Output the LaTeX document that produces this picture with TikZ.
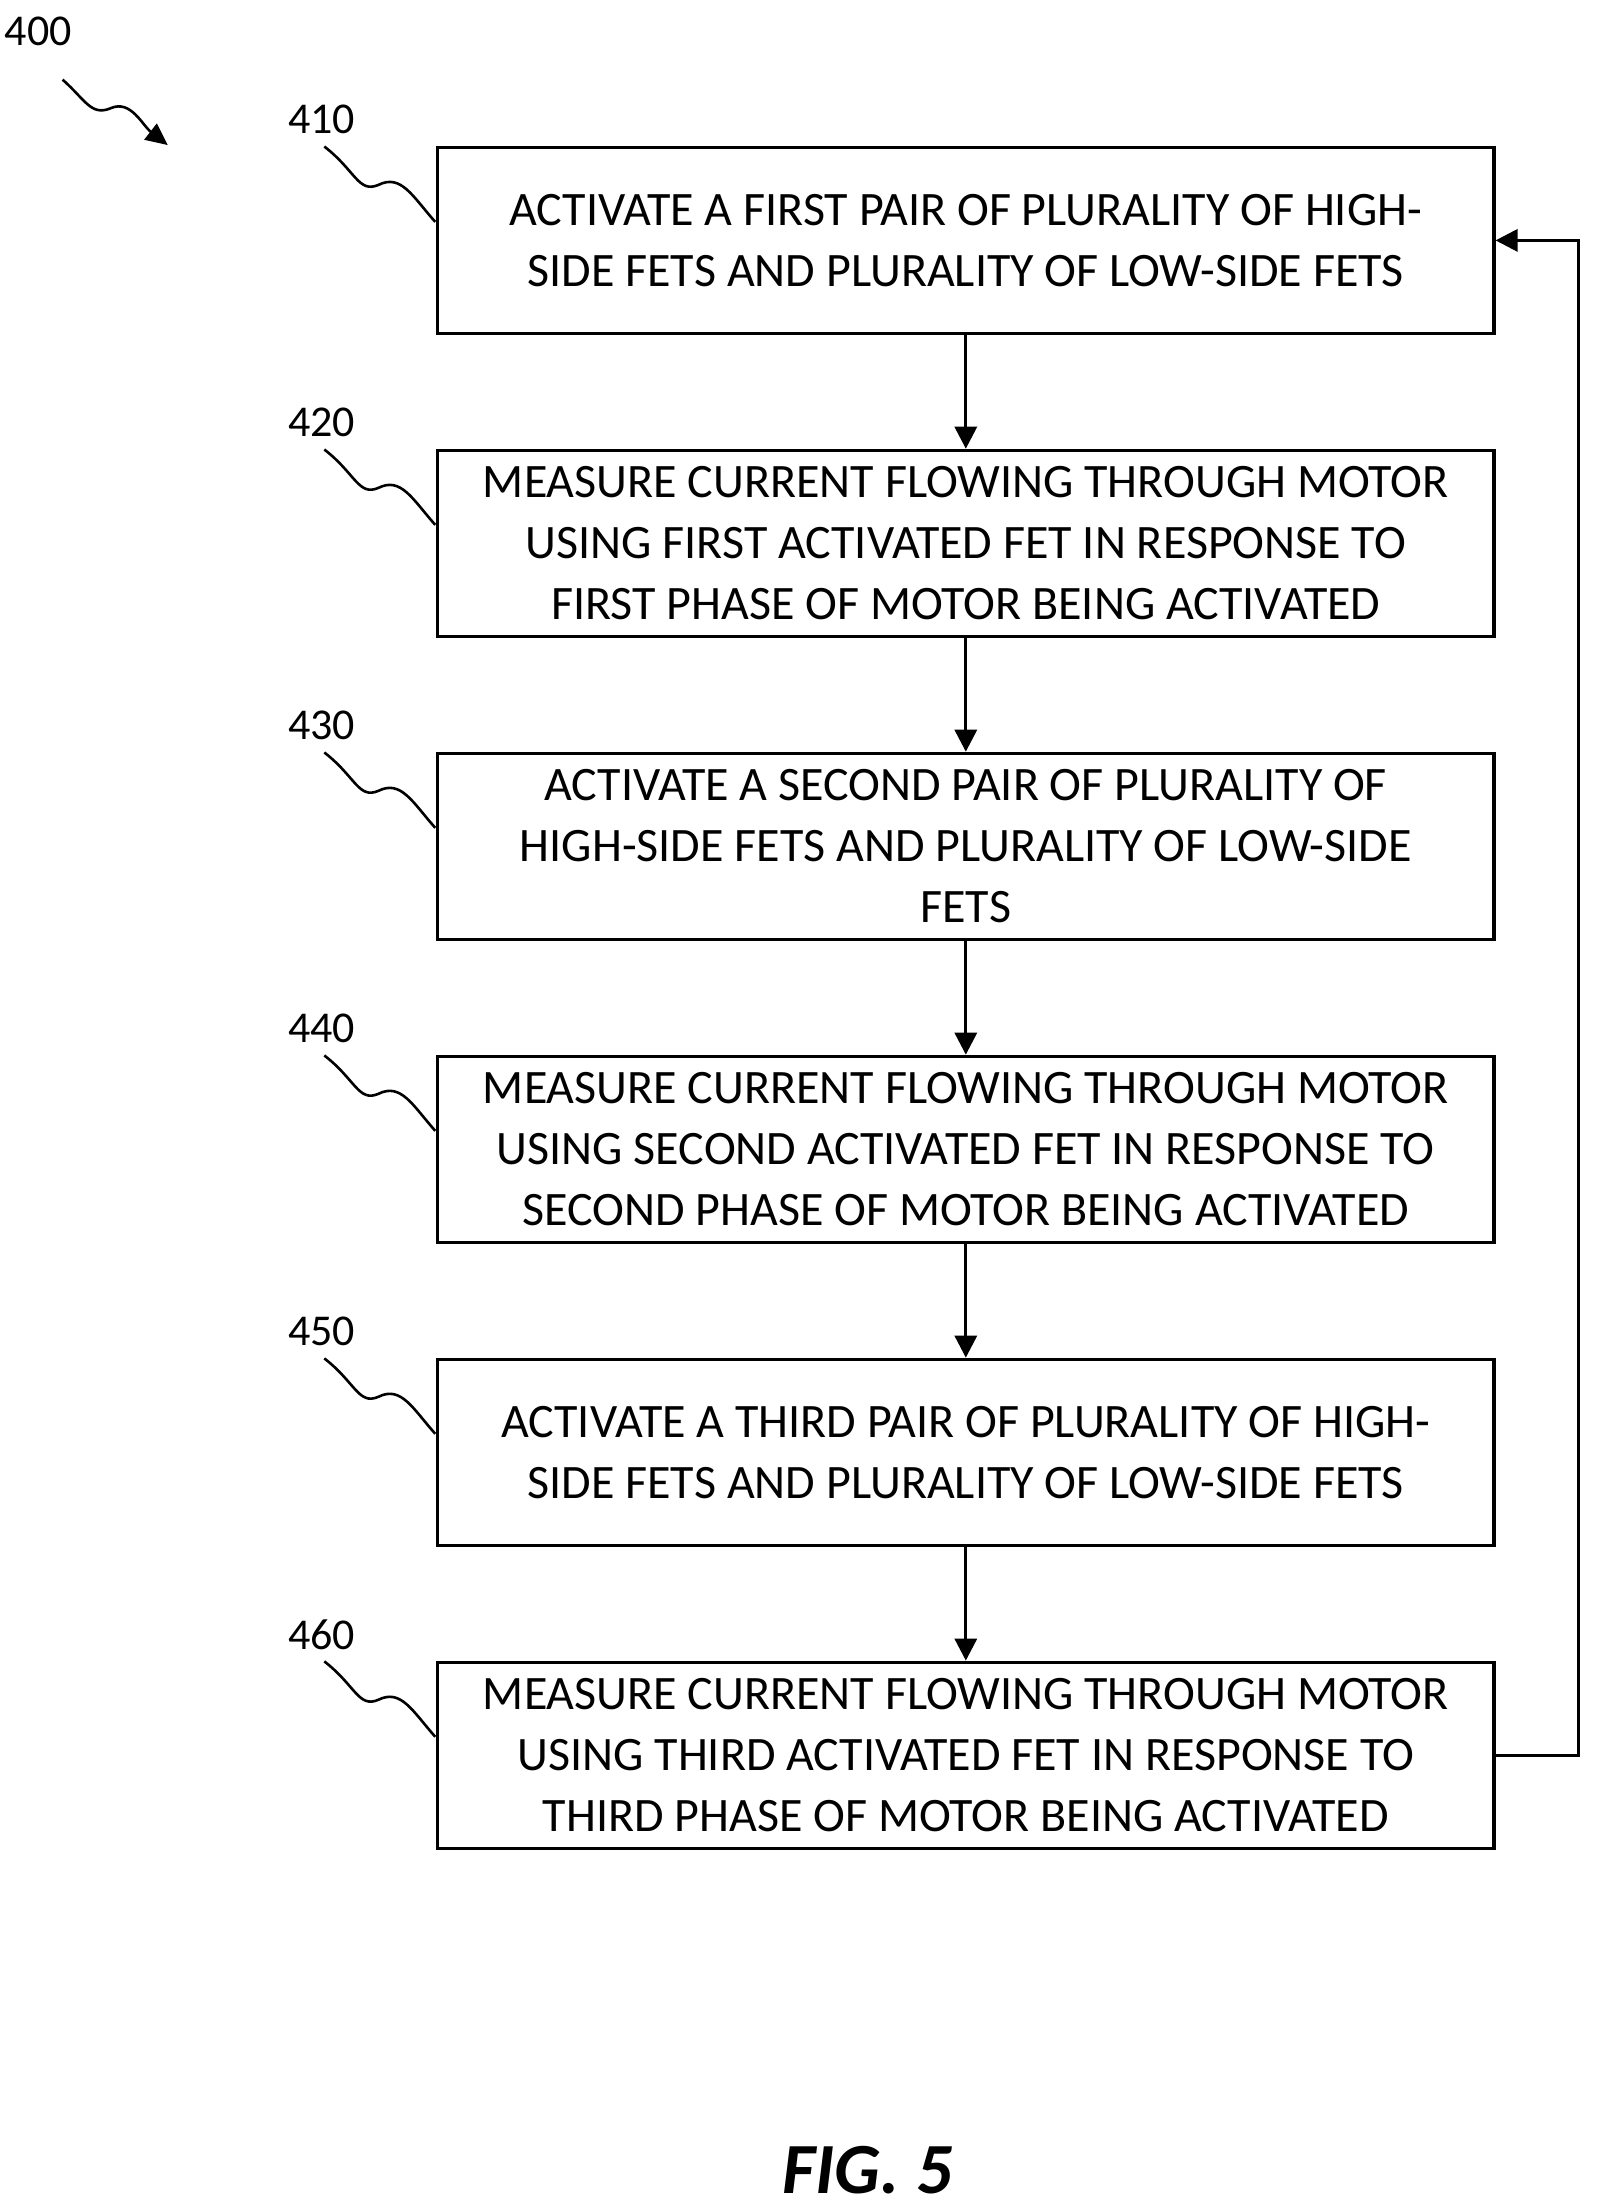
\documentclass[tikz,border=0pt]{standalone}
\usepackage{fontspec}
\setmainfont{Carlito}
\usetikzlibrary{positioning,arrows.meta}
\tikzset{
  flowstep/.style={draw,line width=1.6pt,minimum width=528pt,minimum height=93pt,align=center,inner sep=1pt,font=\fontsize{24}{30.5}\selectfont},
  flow/.style={line width=1.6pt,-{Triangle[length=11pt,width=11pt]}},
  tag/.style={font=\fontsize{22}{24}\selectfont},
  squig/.style={line width=1.3pt}
}
\begin{document}
\begin{tikzpicture}[x=0.711pt,y=-0.711pt]
    \useasboundingbox (0,0) rectangle (1130,1553);
    
    % Step boxes
    \node[flowstep] (s410) at (679,169) {ACTIVATE A FIRST PAIR OF PLURALITY OF HIGH-\\SIDE FETS AND PLURALITY OF LOW-SIDE FETS};
    \node[flowstep] (s420) at (679,382) {MEASURE CURRENT FLOWING THROUGH MOTOR\\USING FIRST ACTIVATED FET IN RESPONSE TO\\FIRST PHASE OF MOTOR BEING ACTIVATED};
    \node[flowstep] (s430) at (679,595) {ACTIVATE A SECOND PAIR OF PLURALITY OF\\HIGH-SIDE FETS AND PLURALITY OF LOW-SIDE\\FETS};
    \node[flowstep] (s440) at (679,808) {MEASURE CURRENT FLOWING THROUGH MOTOR\\USING SECOND ACTIVATED FET IN RESPONSE TO\\SECOND PHASE OF MOTOR BEING ACTIVATED};
    \node[flowstep] (s450) at (679,1021) {ACTIVATE A THIRD PAIR OF PLURALITY OF HIGH-\\SIDE FETS AND PLURALITY OF LOW-SIDE FETS};
    \node[flowstep] (s460) at (679,1234) {MEASURE CURRENT FLOWING THROUGH MOTOR\\USING THIRD ACTIVATED FET IN RESPONSE TO\\THIRD PHASE OF MOTOR BEING ACTIVATED};
    
    % Arrows
    \draw[flow] (s410) -- (s420);
    \draw[flow] (s420) -- (s430);
    \draw[flow] (s430) -- (s440);
    \draw[flow] (s440) -- (s450);
    \draw[flow] (s450) -- (s460);
    \coordinate (back) at (1110,1234);
    \draw[flow] (s460.east) -- (back) |- (s410.east);
    
    % Reference labels
    \foreach \n/\y in {410/0,420/213,430/426,440/639,450/852,460/1065}{
      \node[tag] (l\n) at (226,84+\y) {\n};
      \draw[squig] (228,103+\y) .. controls (250,120+\y) and (252,136+\y) .. (266,130+\y) .. controls (282,122+\y) and (290,138+\y) .. (306,156+\y);
    }
    
    % Figure number
    \node[tag] (l400) at (27,22) {400};
    \draw[squig,-{Triangle[length=11pt,width=10pt]}] (44,56) .. controls (60,70) and (64,82) .. (78,76) .. controls (92,70) and (100,88) .. (118,102);
    \node[font=\fontsize{36}{40}\selectfont\itshape\bfseries] (fig) at (610,1526) {FIG. 5};
\end{tikzpicture}
\end{document}
